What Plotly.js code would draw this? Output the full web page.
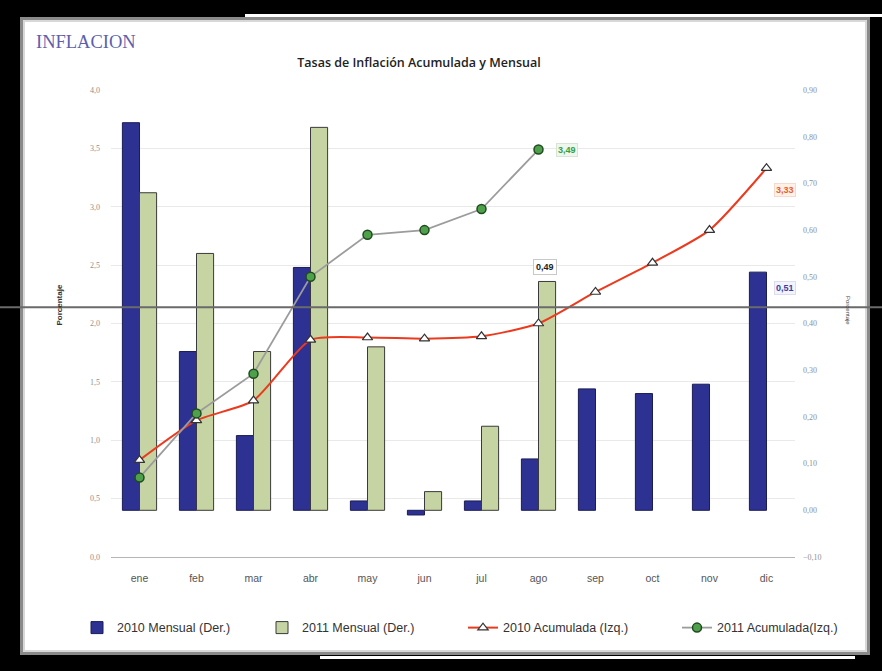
<!DOCTYPE html>
<html>
<head>
<meta charset="utf-8">
<script src="https://cdn.plot.ly/plotly-3.0.1.min.js"></script>
<style>
  html, body { margin:0; padding:0; background:#000; width:882px; height:671px; overflow:hidden; }
  #frame { position:absolute; left:20px; top:17px; width:844px; height:632px; background:#fff;
           border:3px solid #8a8a8a; box-shadow: inset 0 0 0 2px #d8d8d8; }
  #topline { position:absolute; left:245px; top:14px; width:637px; height:3px; background:#fff; }
  #botline { position:absolute; left:320px; top:656px; width:535px; height:3px; background:#fff; }
  #chart { position:absolute; left:0; top:0; width:882px; height:671px; }
</style>
</head>
<body>
<div id="frame"></div>
<div id="topline"></div>
<div id="botline"></div>
<div id="chart"></div>
<script>
// ---- data ----
const months = ['ene','feb','mar','abr','may','jun','jul','ago','sep','oct','nov','dic'];
const mensual2010 = [0.83, 0.34, 0.16, 0.52, 0.02, -0.01, 0.02, 0.11, 0.26, 0.25, 0.27, 0.51];
const mensual2011 = [0.68, 0.55, 0.34, 0.82, 0.35, 0.04, 0.18, 0.49];
const acum2010 = [0.83, 1.17, 1.34, 1.86, 1.88, 1.87, 1.89, 2.00, 2.27, 2.52, 2.80, 3.33];
const acum2011 = [0.68, 1.23, 1.57, 2.40, 2.76, 2.80, 2.98, 3.49];
const leftTicks = [0, 0.5, 1, 1.5, 2, 2.5, 3, 3.5, 4];
const rightTicks = [-0.1, 0, 0.1, 0.2, 0.3, 0.4, 0.5, 0.6, 0.7, 0.8, 0.9];
const names = ['2010 Mensual (Der.)', '2011 Mensual (Der.)', '2010 Acumulada (Izq.)', '2011 Acumulada(Izq.)'];

const fmt = v => v.toFixed(2).replace('.', ',');
const m2011 = months.slice(0, mensual2011.length);

const traces = [
  { type:'bar', name:names[0], x:months, y:mensual2010, yaxis:'y', legend:'legend',
    marker:{color:'#2d3192', line:{color:'#1b1d55', width:1}} },
  { type:'bar', name:names[1], x:m2011, y:mensual2011, yaxis:'y', legend:'legend2',
    marker:{color:'#c5d4a2', line:{color:'#3a3a3a', width:1}} },
  { type:'scatter', mode:'lines+markers', name:names[2], x:months, y:acum2010, yaxis:'y2', legend:'legend3',
    line:{color:'#ec3a1e', width:2, shape:'spline', smoothing:0.6},
    marker:{symbol:'triangle-up', size:9, color:'#ffffff', line:{color:'#333', width:1.2}} },
  { type:'scatter', mode:'lines+markers', name:names[3], x:m2011, y:acum2011, yaxis:'y2', legend:'legend4',
    line:{color:'#9c9c9c', width:1.8},
    marker:{symbol:'circle', size:9, color:'#4fa04a', line:{color:'#1f4a1f', width:1.5}} }
];

const legFont = {size:12.5, color:'#333', family:'Liberation Sans, Arial, sans-serif'};
const mkLegend = px => ({orientation:'h', x:(px-111)/684, xanchor:'left', y:-0.152, yanchor:'middle',
                         font:legFont, itemwidth:30, bgcolor:'rgba(0,0,0,0)'});

const last11 = mensual2011.length - 1;
const layout = {
  width:882, height:671,
  paper_bgcolor:'rgba(0,0,0,0)', plot_bgcolor:'rgba(0,0,0,0)',
  margin:{l:111, r:87, t:90, b:114},
  separators:',.',
  showlegend:true,
  barmode:'group', bargap:0.4, bargroupgap:0,
  font:{family:'Liberation Sans, Arial, sans-serif', color:'#444'},
  title:{text:'Tasas de Inflación Acumulada y Mensual', x:0.475, xanchor:'center', y:0.907, yanchor:'middle',
         font:{family:'Open Sans, Liberation Sans, sans-serif', size:12.5, color:'#222', weight:600}},
  xaxis:{type:'category', categoryarray:months, range:[-0.5, 11.5], autorange:false,
         showgrid:false, zeroline:false, showline:false,
         ticks:'', ticklabelstandoff:13, tickfont:{size:10.5, color:'#555', family:'Liberation Sans, sans-serif'}},
  yaxis:{side:'right', range:[-0.1, 0.9], tickvals:rightTicks, tickformat:'.2f', showgrid:false,
         zeroline:false, showline:false, ticks:'', ticklabelstandoff:7,
         tickfont:{size:8, color:'#8f8f8f', family:'Liberation Serif, serif'}},
  yaxis2:{overlaying:'y', side:'left', range:[0, 4], tickvals:leftTicks, tickformat:'.1f',
          showgrid:true, gridcolor:'#e9e9e9', gridwidth:1, zeroline:true, zerolinecolor:'#b5b5b5', zerolinewidth:1,
          showline:false, ticks:'', ticklabelstandoff:10,
          tickfont:{size:8, color:'#8f8f8f', family:'Liberation Serif, serif'}},
  legend:mkLegend(77),
  legend2:mkLegend(262),
  legend3:mkLegend(463),
  legend4:mkLegend(677),
  shapes:[
    {type:'line', xref:'paper', yref:'paper', x0:-111/684, x1:771/684, y0:0.535, y1:0.535,
     line:{color:'#6a6a6a', width:2}, layer:'above'}
  ],
  annotations:[
    {text:'INFLACION', xref:'paper', yref:'paper', x:-77/684, y:(557-42)/467, xanchor:'left', yanchor:'middle',
     showarrow:false, font:{family:'Liberation Serif, DejaVu Serif, serif', size:18.5, color:'#5b5fae'}},
    {text:'<b>Porcentaje</b>', xref:'paper', yref:'paper', x:-59/684, y:(557-305)/467, textangle:-90,
     showarrow:false, font:{size:8, color:'#333'}},
    {text:'Porcentaje', xref:'paper', yref:'paper', x:(853-111)/684, y:(557-310)/467, textangle:90,
     showarrow:false, font:{size:6, color:'#444'}},
    {text:'<b>'+fmt(mensual2011[last11])+'</b>', x:months[last11], y:mensual2011[last11], xref:'x', yref:'y',
     xshift:6, yshift:14, showarrow:false, bgcolor:'#ffffff', bordercolor:'#c8c8c8', borderwidth:1, borderpad:2,
     font:{size:9, color:'#222'}},
    {text:'<b>'+fmt(acum2011[last11])+'</b>', x:months[last11], y:acum2011[last11], xref:'x', yref:'y2',
     xshift:28, yshift:0, showarrow:false, bgcolor:'#eef6ee', bordercolor:'#d5e6d5', borderwidth:1, borderpad:1,
     font:{size:9, color:'#35a040'}},
    {text:'<b>'+fmt(acum2010[11])+'</b>', x:months[11], y:acum2010[11], xref:'x', yref:'y2',
     xshift:18, yshift:-22, showarrow:false, bgcolor:'#fff1e8', bordercolor:'#f3dccd', borderwidth:1, borderpad:1,
     font:{size:9, color:'#e8602a'}},
    {text:'<b>'+fmt(mensual2010[11])+'</b>', x:months[11], y:mensual2010[11], xref:'x', yref:'y',
     xshift:18, yshift:-16, showarrow:false, bgcolor:'#f3f3fb', bordercolor:'#dcdcee', borderwidth:1, borderpad:1,
     font:{size:9, color:'#3a3ea0'}}
  ]
};

Plotly.newPlot('chart', traces, layout, {displayModeBar:false, staticPlot:true});
</script>
</body>
</html>
